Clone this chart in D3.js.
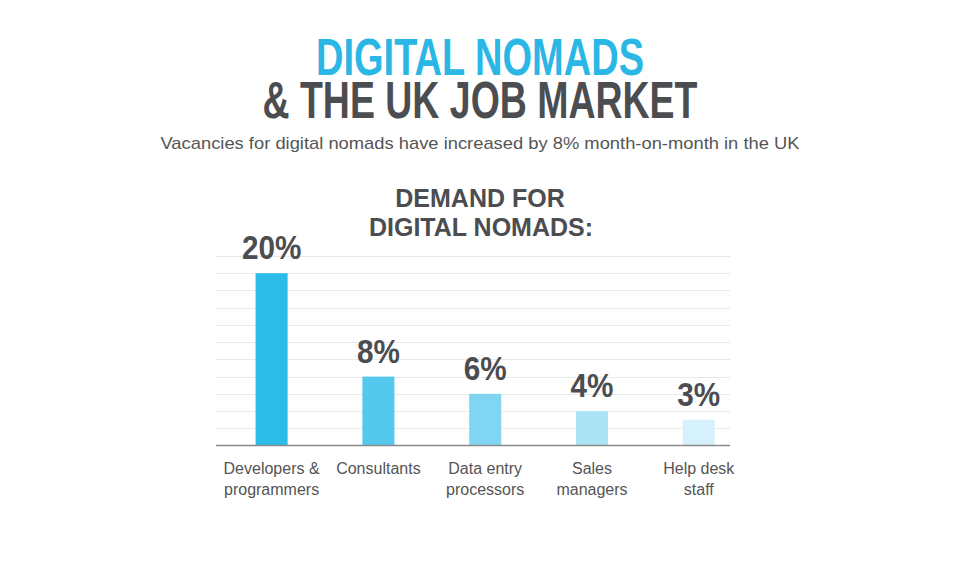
<!DOCTYPE html>
<html><head><meta charset="utf-8">
<script src="https://cdn.jsdelivr.net/npm/d3@7"></script>
<style>body{margin:0;background:#fff}svg{display:block}</style>
</head><body>
<svg id="c" width="960" height="574"></svg>
<script>
const categories = [["Developers &","programmers"],["Consultants"],["Data entry","processors"],["Sales","managers"],["Help desk","staff"]];
const values = [20, 8, 6, 4, 3];
const valueLabels = ["20%","8%","6%","4%","3%"];
const barColors = ["#2bbce8","#55c9ed","#80d6f2","#ace4f6","#d5f1fb"];
const gridTicks = [2,4,6,8,10,12,14,16,18,20,22];

const svg = d3.select("#c");
const dark = "#4b4d51";
const sans = "'Liberation Sans', Arial, Helvetica, sans-serif";

// titles
svg.append("text").attr("x",480).attr("y",75).attr("text-anchor","middle")
  .attr("font-family",sans).attr("font-weight","bold").attr("font-size",52)
  .attr("fill","#2ab7e6").attr("textLength",328).attr("lengthAdjust","spacingAndGlyphs")
  .text("DIGITAL NOMADS");
svg.append("text").attr("x",480).attr("y",118).attr("text-anchor","middle")
  .attr("font-family",sans).attr("font-weight","bold").attr("font-size",52)
  .attr("fill",dark).attr("textLength",435).attr("lengthAdjust","spacingAndGlyphs")
  .text("& THE UK JOB MARKET");
svg.append("text").attr("x",480).attr("y",149).attr("text-anchor","middle")
  .attr("font-family",sans).attr("font-size",17).attr("fill","#555")
  .attr("textLength",639).attr("lengthAdjust","spacingAndGlyphs")
  .text("Vacancies for digital nomads have increased by 8% month-on-month in the UK");
svg.append("text").attr("x",480).attr("y",207).attr("text-anchor","middle")
  .attr("font-family",sans).attr("font-weight","bold").attr("font-size",25).attr("fill",dark)
  .text("DEMAND FOR");
svg.append("text").attr("x",481).attr("y",236).attr("text-anchor","middle")
  .attr("font-family",sans).attr("font-weight","bold").attr("font-size",25).attr("fill",dark)
  .text("DIGITAL NOMADS:");

// scales
const y = d3.scaleLinear().domain([0,22]).range([445.5,256]);
const x = d3.scaleBand().domain(d3.range(values.length)).range([218.2,752.2])
  .paddingInner(0.70).paddingOuter(0.35);

const axisLeft = 216, axisRight = 730;

// gridlines
svg.append("g").selectAll("line").data(gridTicks).join("line")
  .attr("x1",axisLeft).attr("x2",axisRight)
  .attr("y1",d=>Math.round(y(d))+0.5).attr("y2",d=>Math.round(y(d))+0.5)
  .attr("stroke","#e9e9e9").attr("stroke-width",1);

// bars
svg.append("g").selectAll("rect").data(values).join("rect")
  .attr("x",(d,i)=>x(i)).attr("width",x.bandwidth())
  .attr("y",d=>y(d)).attr("height",d=>y(0)-y(d))
  .attr("fill",(d,i)=>barColors[i]);

// baseline
svg.append("line").attr("x1",axisLeft).attr("x2",axisRight)
  .attr("y1",y(0)).attr("y2",y(0)).attr("stroke","#8a8a8a").attr("stroke-width",1.5);

// value labels
svg.append("g").selectAll("text").data(values).join("text")
  .attr("transform",(d,i)=>`translate(${x(i)+x.bandwidth()/2},${y(d)-14}) scale(0.9,1)`)
  .attr("text-anchor","middle").attr("font-family",sans).attr("font-weight","bold")
  .attr("font-size",33).attr("fill",dark)
  .text((d,i)=>valueLabels[i]);

// category labels
const cl = svg.append("g").selectAll("text").data(categories).join("text")
  .attr("x",(d,i)=>x(i)+x.bandwidth()/2).attr("y",474)
  .attr("text-anchor","middle").attr("font-family",sans).attr("font-size",16).attr("fill","#555");
cl.selectAll("tspan").data(d=>d).join("tspan")
  .attr("x",function(){return this.parentNode.getAttribute("x");})
  .attr("dy",(d,i)=>i===0?0:21).text(d=>d);
</script>
</body></html>
